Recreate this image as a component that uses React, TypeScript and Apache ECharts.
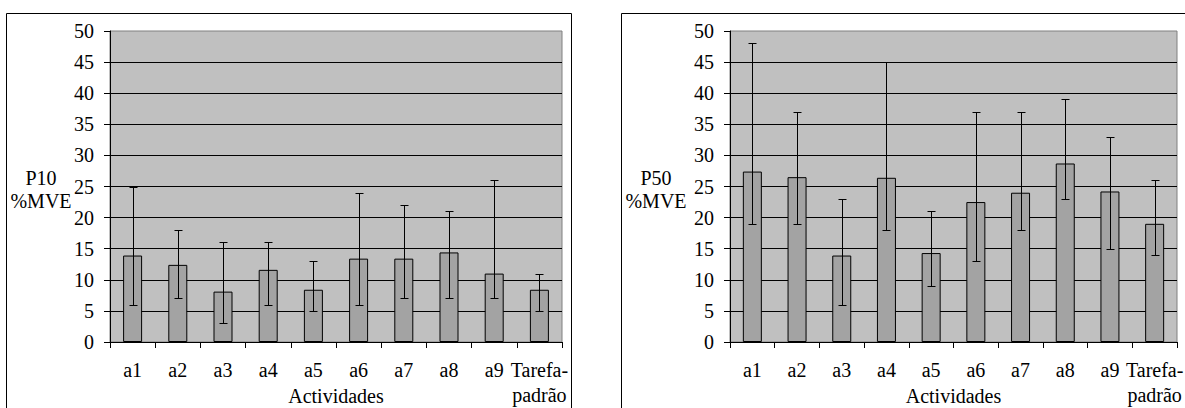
import React, { useEffect, useRef } from "react";
import * as echarts from "echarts";

const categories = ["a1", "a2", "a3", "a4", "a5", "a6", "a7", "a8", "a9", "Tarefa-\npadrão"];
const yTicks = [0, 5, 10, 15, 20, 25, 30, 35, 40, 45, 50];

const p10Values = [13.9, 12.4, 8.1, 11.6, 8.4, 13.4, 13.4, 14.4, 11.0, 8.4];
const p10Low = [6, 7, 3, 6, 5, 6, 7, 7, 7, 5];
const p10High = [25, 18, 16, 16, 13, 24, 22, 21, 26, 11];

const p50Values = [27.4, 26.5, 13.9, 26.4, 14.3, 22.5, 24.0, 28.7, 24.2, 19.0];
const p50Low = [19, 19, 6, 18, 9, 13, 18, 23, 15, 14];
const p50High = [48, 37, 23, 45, 21, 37, 37, 39, 33, 26];

const FONT = "Times New Roman, Liberation Serif, DejaVu Serif, serif";

function errorRender(params: any, api: any) {
  const i = api.value(0);
  const lo = api.coord([i, api.value(1)]);
  const hi = api.coord([i, api.value(2)]);
  const x = Math.round(lo[0]) + 0.5;
  const yl = Math.round(lo[1]) + 0.5;
  const yh = Math.round(hi[1]) + 0.5;
  const hw = 4;
  const style = { stroke: "#000", lineWidth: 1 };
  return {
    type: "group",
    children: [
      { type: "line", shape: { x1: x, y1: yl, x2: x, y2: yh }, style },
      { type: "line", shape: { x1: x - hw, y1: yl, x2: x + hw, y2: yl }, style },
      { type: "line", shape: { x1: x - hw, y1: yh, x2: x + hw, y2: yh }, style },
    ],
  };
}

function makeX(gridIndex: number) {
  return {
    type: "category",
    gridIndex,
    data: categories,
    boundaryGap: true,
    name: "Actividades",
    nameLocation: "middle",
    nameGap: 41,
    nameMoveOverlap: false,
    nameTextStyle: { color: "#000", fontFamily: FONT, fontSize: 20, lineHeight: 25, verticalAlign: "top" },
    axisLine: { show: true, lineStyle: { color: "#000", width: 1 } },
    axisTick: { show: true, length: 6, lineStyle: { color: "#000" } },
    axisLabel: {
      color: "#000",
      fontFamily: FONT,
      fontSize: 20,
      lineHeight: 25,
      margin: 15,
      interval: 0,
    },
    splitLine: { show: false },
  };
}

function makeY(gridIndex: number) {
  return {
    type: "value",
    gridIndex,
    min: yTicks[0],
    max: yTicks[yTicks.length - 1],
    interval: 5,
    axisLine: { show: true, lineStyle: { color: "#000", width: 1 } },
    axisTick: { show: true, length: 6, lineStyle: { color: "#000" } },
    axisLabel: { color: "#000", fontFamily: FONT, fontSize: 20, margin: 16 },
    splitLine: { show: true, showMaxLine: false, showMinLine: false, lineStyle: { color: "#000", width: 1 } },
  };
}

export default function App() {
  const ref = useRef<HTMLDivElement>(null);
  useEffect(() => {
    if (!ref.current) return;
    const chart = echarts.init(ref.current, undefined, { renderer: "svg" });
    const option: any = {
      animation: false,
      backgroundColor: "#fff",
      textStyle: { fontFamily: FONT },
      grid: [
        { left: 110, top: 31, width: 452, height: 311, outerBoundsMode: "none", containLabel: false, show: true, backgroundColor: "#c0c0c0", borderColor: "#808080", borderWidth: 1 },
        { left: 730, top: 31, width: 447, height: 311, outerBoundsMode: "none", containLabel: false, show: true, backgroundColor: "#c0c0c0", borderColor: "#808080", borderWidth: 1 },
      ],
      xAxis: [makeX(0), makeX(1)],
      yAxis: [makeY(0), makeY(1)],
      series: [
        {
          type: "bar",
          xAxisIndex: 0,
          yAxisIndex: 0,
          data: p10Values,
          barWidth: 19,
          itemStyle: { color: "#a3a3a3", borderColor: "#000", borderWidth: 1 },
        },
        {
          type: "custom",
          xAxisIndex: 0,
          yAxisIndex: 0,
          renderItem: errorRender,
          encode: { x: 0, y: [1, 2] },
          data: categories.map((_, i) => [i, p10Low[i], p10High[i]]),
          z: 5,
        },
        {
          type: "bar",
          xAxisIndex: 1,
          yAxisIndex: 1,
          data: p50Values,
          barWidth: 19,
          itemStyle: { color: "#a3a3a3", borderColor: "#000", borderWidth: 1 },
        },
        {
          type: "custom",
          xAxisIndex: 1,
          yAxisIndex: 1,
          renderItem: errorRender,
          encode: { x: 0, y: [1, 2] },
          data: categories.map((_, i) => [i, p50Low[i], p50High[i]]),
          z: 5,
        },
      ],
      graphic: [
        { type: "rect", shape: { x: 6.5, y: 13.5, width: 565, height: 420 }, style: { fill: "none", stroke: "#000", lineWidth: 1 }, z: -1 },
        { type: "rect", shape: { x: 621.5, y: 13.5, width: 600, height: 420 }, style: { fill: "none", stroke: "#000", lineWidth: 1 }, z: -1 },
        { type: "text", x: 41, y: 189, style: { text: "P10\n%MVE", fill: "#000", fontFamily: FONT, fontSize: 20, align: "center", verticalAlign: "middle", lineHeight: 23 }, z: 10 },
        { type: "text", x: 656, y: 189, style: { text: "P50\n%MVE", fill: "#000", fontFamily: FONT, fontSize: 20, align: "center", verticalAlign: "middle", lineHeight: 23 }, z: 10 },
      ],
    };
    chart.setOption(option);
    return () => chart.dispose();
  }, []);
  return <div ref={ref} style={{ position: "absolute", left: 0, top: 0, width: 1185, height: 408 }} />;
}
